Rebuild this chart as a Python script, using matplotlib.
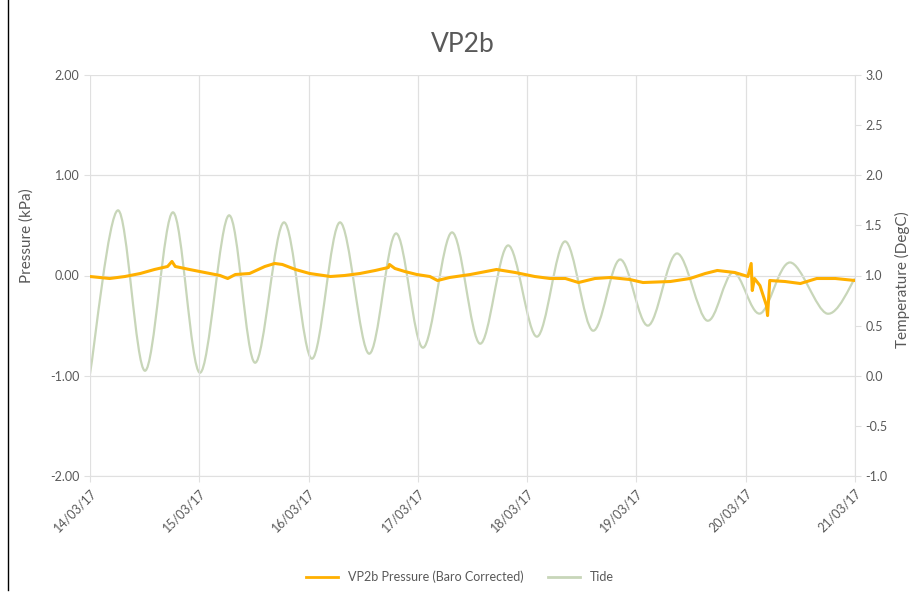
import numpy as np
import matplotlib
matplotlib.use("Agg")
import matplotlib.pyplot as plt
from matplotlib.path import Path
from matplotlib.patches import PathPatch
from matplotlib.lines import Line2D

plt.rcParams['font.family'] = ['Lato', 'DejaVu Sans']

# ---------------- data ----------------
date_labels = ["14/03/17", "15/03/17", "16/03/17", "17/03/17",
               "18/03/17", "19/03/17", "20/03/17", "21/03/17"]

# VP2b pressure (kPa), time in days since 14/03/17
press_days = [0.00, 0.09, 0.18, 0.32, 0.46, 0.59, 0.71, 0.75, 0.78, 0.91,
              1.05, 1.19, 1.26, 1.33, 1.46, 1.60, 1.69, 1.76, 1.88, 2.01,
              2.20, 2.33, 2.47, 2.61, 2.73, 2.74, 2.79, 2.88, 2.99, 3.11,
              3.18, 3.29, 3.48, 3.72, 3.89, 4.07, 4.21, 4.35, 4.47, 4.62,
              4.76, 4.94, 5.06, 5.31, 5.49, 5.63, 5.74, 5.90, 6.02, 6.05,
              6.06, 6.08, 6.13, 6.19, 6.20, 6.22, 6.36, 6.50, 6.65, 6.82, 7.00]
press_kpa = [-0.01, -0.02, -0.03, -0.01, 0.02, 0.06, 0.09, 0.14, 0.09, 0.06,
             0.03, 0.00, -0.03, 0.01, 0.02, 0.09, 0.12, 0.11, 0.06, 0.02,
             -0.01, 0.00, 0.02, 0.05, 0.08, 0.11, 0.07, 0.04, 0.01, -0.01,
             -0.05, -0.02, 0.01, 0.06, 0.03, -0.01, -0.03, -0.03, -0.07, -0.03,
             -0.02, -0.04, -0.07, -0.06, -0.03, 0.02, 0.05, 0.03, -0.01, 0.12,
             -0.15, -0.03, -0.10, -0.30, -0.40, -0.05, -0.06, -0.08, -0.03, -0.03, -0.05]

# Tide highs / lows (secondary axis), time in days since 14/03/17
tide_days = [0.000, 0.256, 0.503, 0.759, 1.006, 1.272, 1.51, 1.775, 2.031,
             2.287, 2.553, 2.80, 3.047, 3.312, 3.568, 3.825, 4.09, 4.346,
             4.60, 4.85, 5.106, 5.37, 5.646, 5.883, 6.13, 6.405, 6.744, 7.0]
tide_level = [0.02, 1.65, 0.05, 1.63, 0.03, 1.60, 0.13, 1.53, 0.17,
              1.53, 0.22, 1.42, 0.28, 1.43, 0.32, 1.30, 0.39, 1.34,
              0.45, 1.16, 0.50, 1.22, 0.55, 1.03, 0.62, 1.13, 0.62, 0.97]

press_color = "#ffb000"
tide_color = "#c8d6b9"
grey = "#595959"
grid_c = "#e0e0e0"

fig = plt.figure(figsize=(9.11, 5.98), dpi=100)
ax = fig.add_axes([90/911, 1-476/598, (855-90)/911, (476-75)/598])
ax2 = ax.twinx()
ax.set_zorder(ax2.get_zorder() + 1)
ax.patch.set_visible(False)

# tide as a smoothed line (Catmull-Rom Bezier, like Excel's smoothed line)
P = np.column_stack([tide_days, tide_level])
verts = [tuple(P[0])]
codes = [Path.MOVETO]
n = len(P)
for i in range(n - 1):
    p0 = P[i - 1] if i > 0 else P[i]
    p1 = P[i]
    p2 = P[i + 1]
    p3 = P[i + 2] if i + 2 < n else P[i + 1]
    c1 = p1 + (p2 - p0) / 6.0
    c2 = p2 - (p3 - p1) / 6.0
    verts += [tuple(c1), tuple(c2), tuple(p2)]
    codes += [Path.CURVE4] * 3
ax2.add_patch(PathPatch(Path(verts, codes), fill=False, edgecolor=tide_color, lw=1.6))

ax.plot(press_days, press_kpa, color=press_color, lw=2.2)

ax.set_xlim(0, 7)
ax.set_ylim(-2, 2)
ax2.set_ylim(-1, 3)

ax.set_xticks(range(8))
ax.set_xticklabels(date_labels, rotation=45, ha='right', va='top', rotation_mode='anchor')
ax.set_yticks([-2, -1, 0, 1, 2])
ax.set_yticklabels(["-2.00", "-1.00", "0.00", "1.00", "2.00"])
ax2.set_yticks(np.arange(-1, 3.01, 0.5))
ax2.set_yticklabels([f"{v:.1f}" for v in np.arange(-1, 3.01, 0.5)])

ax.grid(True, color=grid_c, lw=0.9)
ax.set_axisbelow(True)
for a in (ax, ax2):
    for s in a.spines.values():
        s.set_visible(False)
ax.spines['bottom'].set_visible(True)
ax.spines['bottom'].set_color(grid_c)
ax2.spines['right'].set_visible(True)
ax2.spines['right'].set_color(grid_c)

ax.tick_params(axis='both', colors=grid_c, labelcolor=grey, labelsize=9, length=4)
ax2.tick_params(axis='y', colors=grid_c, labelcolor=grey, labelsize=9, length=4)

fig.text(27/911, 1-236/598, "Pressure (kPa)", rotation=90, ha='center', va='center',
         color=grey, fontsize=11)
fig.text(902/911, 1-280/598, "Temperature (DegC)", rotation=90, ha='center', va='center',
         color=grey, fontsize=11)
fig.text(0.508, 1-45/598, "VP2b", ha='center', va='center', color=grey, fontsize=19)

handles = [Line2D([], [], color=press_color, lw=2), Line2D([], [], color=tide_color, lw=2)]
fig.legend(handles, ["VP2b Pressure (Baro Corrected)", "Tide"], loc='center',
           bbox_to_anchor=(0.505, 1-577/598), ncol=2, frameon=False, fontsize=9,
           labelcolor=grey, handlelength=2.5, columnspacing=2)

fig.add_artist(Line2D([8/911, 8/911], [1-590/598, 1.0], color='black', lw=1))

fig.savefig("out.png", dpi=100)
